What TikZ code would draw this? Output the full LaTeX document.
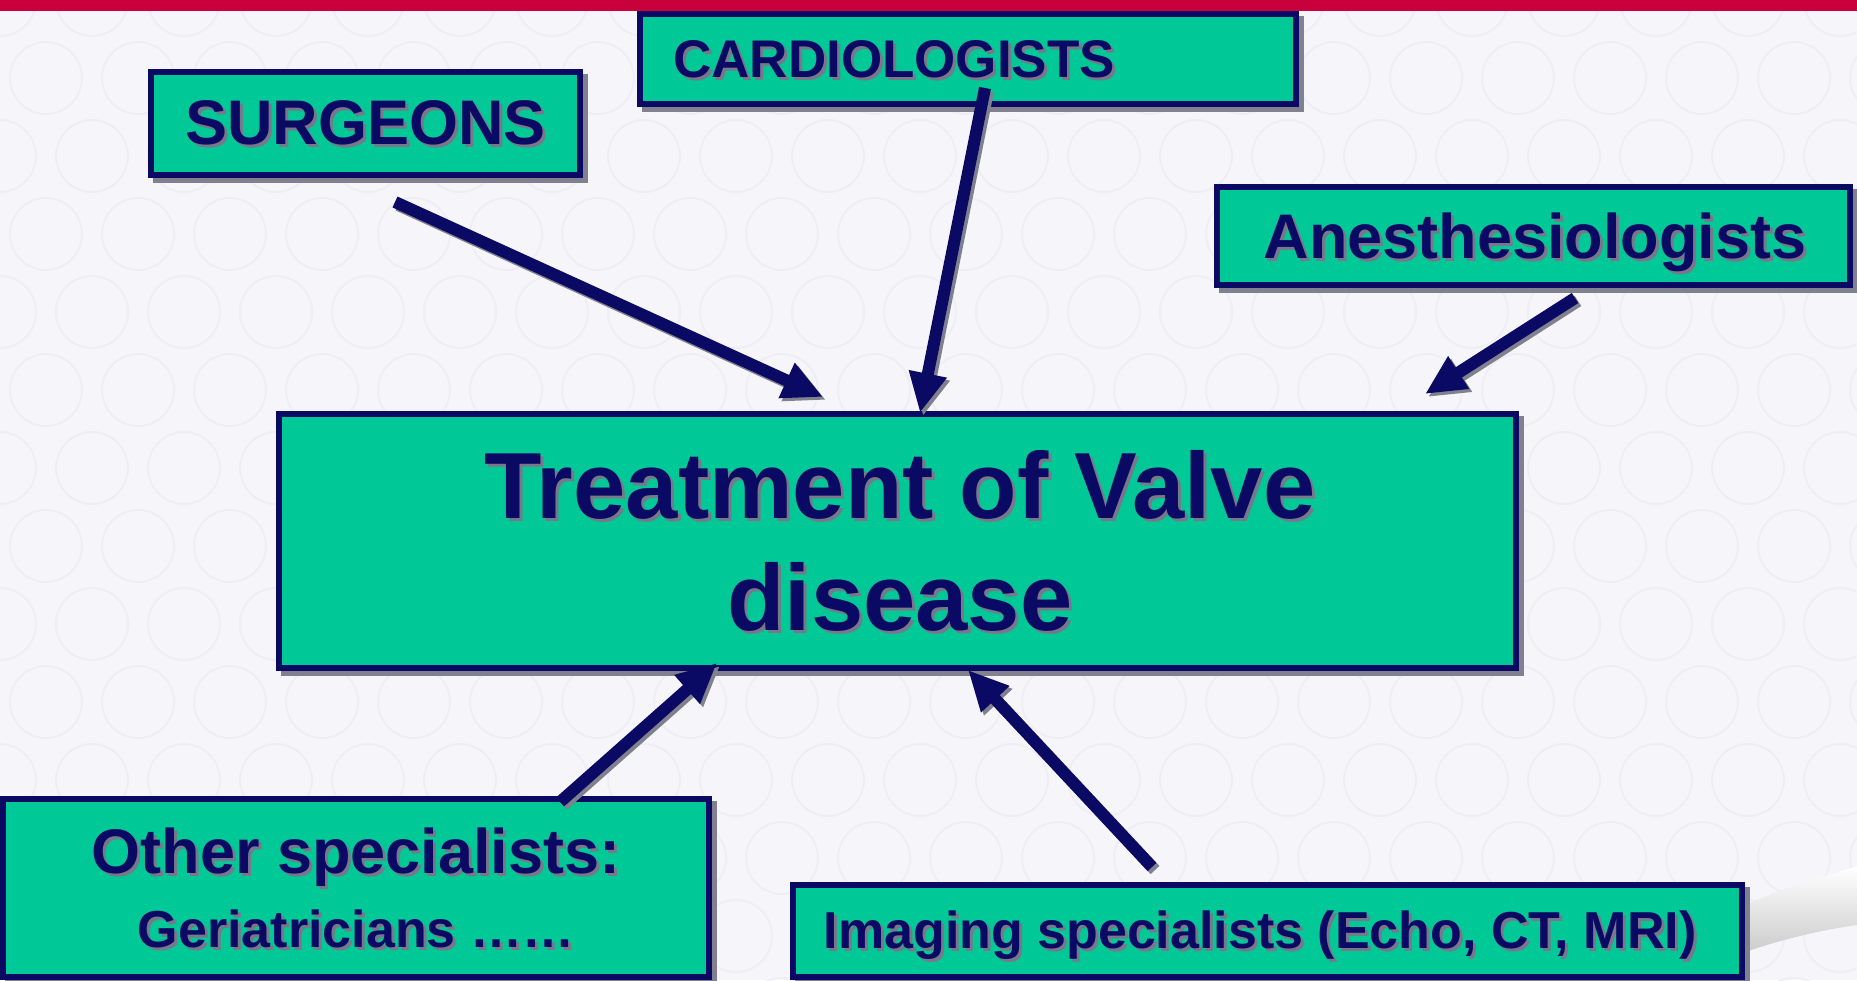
\documentclass[tikz,border=0pt]{standalone}
\usepackage{fontspec}
\setmainfont{Liberation Sans}
\usetikzlibrary{arrows.meta,calc}
\definecolor{navy}{RGB}{10,10,100}
\definecolor{boxfill}{RGB}{0,200,150}
\definecolor{shadowgray}{RGB}{128,128,142}
\definecolor{txtshadow}{RGB}{120,120,140}
\definecolor{topred}{RGB}{200,0,60}
\definecolor{bgcol}{RGB}{246,246,250}
\definecolor{pattcol}{RGB}{238,238,244}
\newcommand{\panelbox}[4]{%
  \node[boxshadow, minimum width=#3pt, minimum height=#4pt] (#1-sh) at ($(#2)+(5,5)$) {};
  \node[boxshape, minimum width=#3pt, minimum height=#4pt] (#1) at (#2) {};}
\newcommand{\shadowtext}[5]{%
  \node[lblshadow, anchor=#3, font=\bfseries\fontsize{#4}{#4}\selectfont] (#1-sh) at ($(#2)+(3,3)$) {#5};
  \node[lbl, anchor=#3, font=\bfseries\fontsize{#4}{#4}\selectfont] (#1) at (#2) {#5};}
\begin{document}
\begin{tikzpicture}[x=1pt,y=-1pt,
  boxshape/.style={rectangle, draw=navy, line width=6pt, fill=boxfill, inner sep=0pt, outer sep=0pt},
  boxshadow/.style={rectangle, draw=shadowgray, line width=6pt, fill=shadowgray, inner sep=0pt, outer sep=0pt},
  lbl/.style={text=navy, inner sep=0pt},
  lblshadow/.style={text=txtshadow, inner sep=0pt},
  conn/.style={draw=navy, line width=12pt, -{Triangle[length=40pt,width=36pt]}},
  connshadow/.style={draw=shadowgray, line width=12pt, -{Triangle[length=40pt,width=36pt]}},
  patt/.style={draw=pattcol, line width=2pt}]
\useasboundingbox (0,0) rectangle (1857,980);
\fill[bgcol] (0,0) rectangle (1857,980);
\begin{scope}
  \clip (0,0) rectangle (1857,980);
  \foreach \r in {0,...,13} {
    \foreach \c in {0,...,21} {
      \draw[patt] ({\c*92 + mod(\r,2)*46},{\r*78}) circle (36);
    }
  }
  \shade[top color=white, bottom color=gray!40] (1745,905) .. controls (1790,885) and (1830,875) .. (1857,866) -- (1857,925) .. controls (1820,930) and (1780,940) .. (1745,952) -- cycle;
\end{scope}
\fill[topred] (0,0) rectangle (1857,11);

% boxes
\panelbox{surg}{365.5,123.5}{429}{103}
\panelbox{card}{968,59}{656}{90}
\panelbox{anes}{1533.5,236}{633}{98}
\panelbox{main}{897.5,541}{1237}{254}
\panelbox{other}{356,888}{706}{178}
\panelbox{imag}{1267.5,931}{949}{92}

% texts
\shadowtext{tsurg}{365.5,144}{base}{63}{SURGEONS}
\shadowtext{tcard}{673,77}{base west}{53}{CARDIOLOGISTS}
\shadowtext{tanes}{1535,258}{base}{63}{Anesthesiologists}
\shadowtext{tmain1}{900,518}{base}{94}{Treatment of Valve}
\shadowtext{tmain2}{900,630}{base}{94}{disease}
\shadowtext{tother1}{356,873}{base}{63}{Other specialists:}
\shadowtext{tother2}{356,947}{base}{52}{Geriatricians ……}
\shadowtext{timag}{1260,948}{base}{52}{Imaging specialists (Echo, CT, MRI)}

% connector end points
\coordinate (s1) at (395,202);  \coordinate (s2) at (823,397);
\coordinate (c1) at (985,88);   \coordinate (c2) at (920,413);
\coordinate (a1) at (1575,298); \coordinate (a2) at (1425,394);
\coordinate (o1) at (560,802);  \coordinate (o2) at (717,663);
\coordinate (i1) at (1152,867); \coordinate (i2) at (968,670);

\foreach \p/\q in {s1/s2,c1/c2,a1/a2,o1/o2,i1/i2} {
  \draw[connshadow] ($(\p)+(3,3)$) -- ($(\q)+(3,3)$);
}
\foreach \p/\q in {s1/s2,c1/c2,a1/a2,o1/o2,i1/i2} {
  \draw[conn] (\p) -- (\q);
}
\end{tikzpicture}
\end{document}
